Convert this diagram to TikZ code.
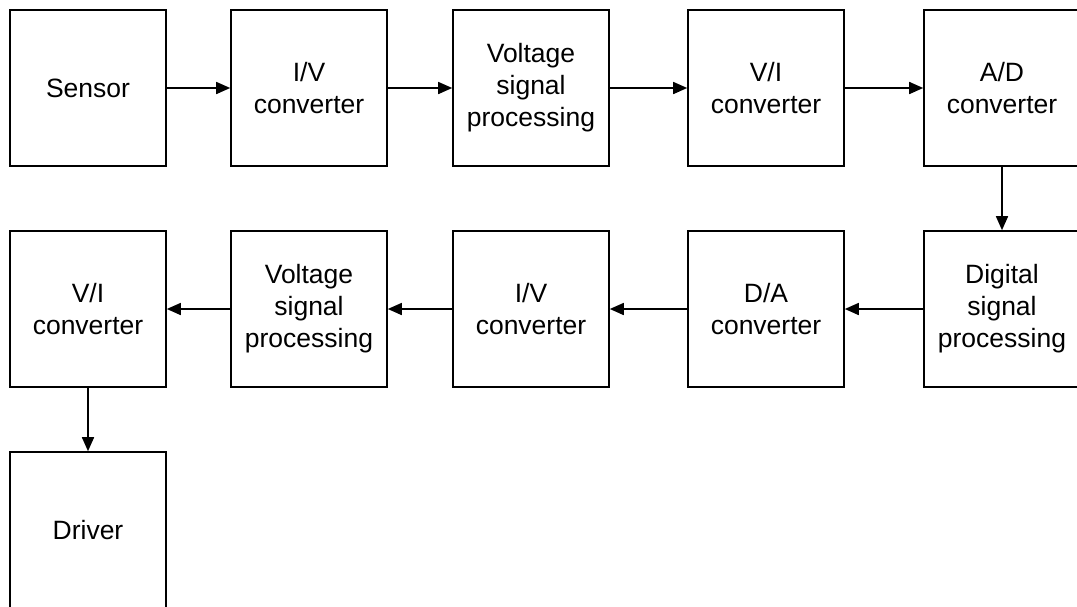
\documentclass[tikz,border=0pt]{standalone}
\usepackage{fontspec}
\setmainfont{Liberation Sans}
\usetikzlibrary{arrows.meta}
\begin{document}
\begin{tikzpicture}[x=1pt,y=-1pt,
  blk/.style={draw=black,line width=1.6pt,minimum width=156pt,minimum height=156pt,inner sep=0pt,align=center,font=\fontsize{26.5}{32}\selectfont},
  conn/.style={line width=1.6pt,-{Triangle[length=14pt,width=12pt]}}]
\useasboundingbox (0,0) rectangle (1077,606);
\clip (0,0) rectangle (1077,606);
\fill[white] (0,0) rectangle (1077,606);
\node[blk] (sen) at (88,88) {Sensor};
\node[blk] (iv1) at (309,88) {I/V\\converter};
\node[blk] (vsp1) at (531,88) {Voltage\\signal\\processing};
\node[blk] (vi1) at (766,88) {V/I\\converter};
\node[blk] (ad) at (1002,88) {A/D\\converter};
\node[blk] (dsp) at (1002,309) {Digital\\signal\\processing};
\node[blk] (da) at (766,309) {D/A\\converter};
\node[blk] (iv2) at (531,309) {I/V\\converter};
\node[blk] (vsp2) at (309,309) {Voltage\\signal\\processing};
\node[blk] (vi2) at (88,309) {V/I\\converter};
\node[blk] (drv) at (88,530) {Driver};
\draw[conn] (sen) -- (iv1);
\draw[conn] (iv1) -- (vsp1);
\draw[conn] (vsp1) -- (vi1);
\draw[conn] (vi1) -- (ad);
\draw[conn] (ad) -- (dsp);
\draw[conn] (dsp) -- (da);
\draw[conn] (da) -- (iv2);
\draw[conn] (iv2) -- (vsp2);
\draw[conn] (vsp2) -- (vi2);
\draw[conn] (vi2) -- (drv);
\end{tikzpicture}
\end{document}
